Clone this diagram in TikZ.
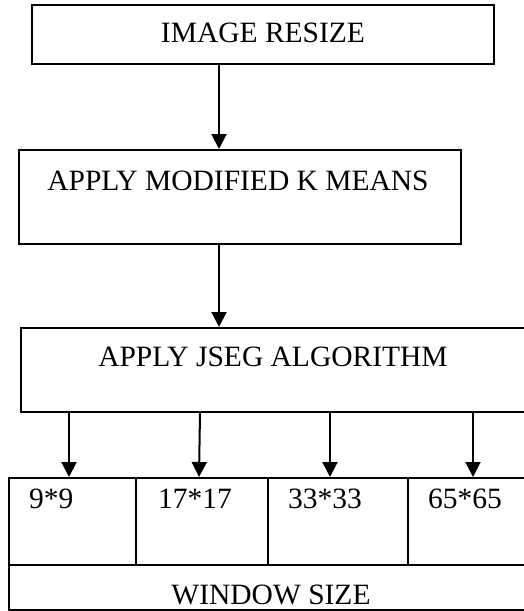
\documentclass[tikz,border=0pt]{standalone}
\usepackage{fontspec}
\setmainfont{Liberation Serif}
\usetikzlibrary{arrows.meta}
\begin{document}
\begin{tikzpicture}[x=1pt,y=-1pt,
  box/.style={draw=black, line width=2pt, inner sep=0pt, minimum width=#1},
  lbl/.style={inner sep=0pt, font=\fontsize{29.5}{32}\selectfont},
  arr/.style={line width=2pt, -{Triangle[width=15pt,length=15pt]}}]
  \useasboundingbox (0,0) rectangle (524,611);
  \clip (0,0) rectangle (524,611);

  % processing stages
  \node[box=462pt, minimum height=59pt] (b1) at (263,34.5) {};
  \node[lbl] (t1) at (263,33) {IMAGE RESIZE};
  \node[box=442pt, minimum height=94pt] (b2) at (240,197) {};
  \node[lbl] (t2) at (238,181) {APPLY MODIFIED K MEANS};
  \node[box=519pt, minimum height=84pt] (b3) at (280.5,370) {};
  \node[lbl] (t3) at (273,357) {APPLY JSEG ALGORITHM};

  % window size table
  \node[box=127pt, minimum height=87pt] (c1) at (72.5,521.5) {};
  \node[box=132pt, minimum height=87pt] (c2) at (202,521.5) {};
  \node[box=140pt, minimum height=87pt] (c3) at (338,521.5) {};
  \node[box=122pt, minimum height=87pt] (c4) at (469,521.5) {};
  \node[lbl, anchor=west] (n1) at (29,499) {9*9};
  \node[lbl, anchor=west] (n2) at (158,499) {17*17};
  \node[lbl, anchor=west] (n3) at (288,499) {33*33};
  \node[lbl, anchor=west] (n4) at (428,499) {65*65};
  \node[draw=black, line width=1.4pt, inner sep=0pt, minimum width=521pt, minimum height=45pt] (ws) at (269.5,587.5) {};
  \node[lbl] (tw) at (271,595) {WINDOW SIZE};

  % connectors
  \coordinate (xa) at (219,0);
  \coordinate (x1) at (69,0);
  \coordinate (x2a) at (200,0);
  \coordinate (x2b) at (199,0);
  \coordinate (x3) at (330,0);
  \coordinate (x4) at (473,0);
  \draw[arr] (b1.south -| xa) -- (b2.north -| xa);
  \draw[arr] (b2.south -| xa) -- (b3.north -| xa);
  \draw[arr] (b3.south -| x1) -- (c1.north -| x1);
  \draw[arr] (b3.south -| x2a) -- (c2.north -| x2b);
  \draw[arr] (b3.south -| x3) -- (c3.north -| x3);
  \draw[arr] (b3.south -| x4) -- (c4.north -| x4);
\end{tikzpicture}
\end{document}
